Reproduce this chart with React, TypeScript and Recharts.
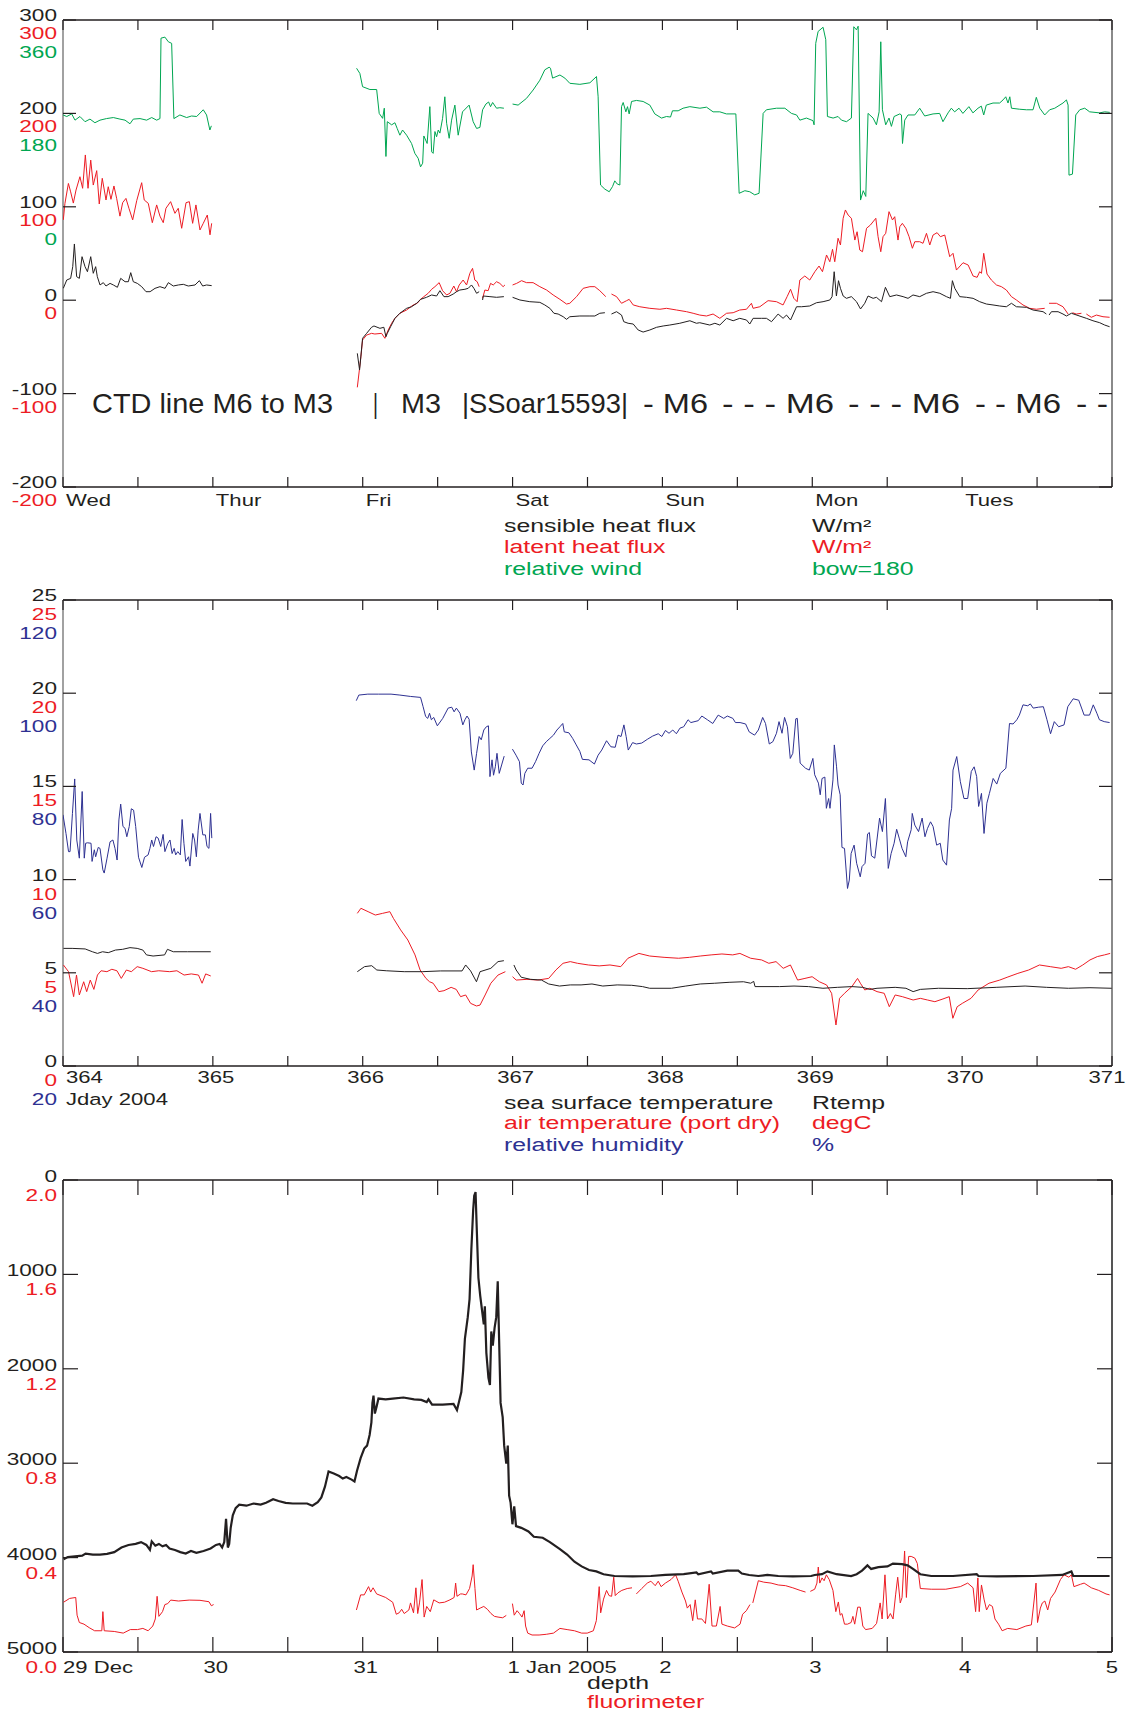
import { LineChart, Line, XAxis, YAxis, ReferenceLine } from 'recharts';

const INK = '#231f20';
const RED = '#ed1c24';
const GREEN = '#00a651';
const BLUE = '#2e3192';
const FRAME = '#8a8a8a';
const FONT = "'Liberation Sans', Arial, Helvetica, sans-serif";

type Pt = [number, number];

// shared x ticks: half-day steps over the week
const dayTicks = [0, 0.5, 1, 1.5, 2, 2.5, 3, 3.5, 4, 4.5, 5, 5.5, 6, 6.5, 7];
const weekdayLabels = ['Wed', 'Thur', 'Fri', 'Sat', 'Sun', 'Mon', 'Tues', ''];
const jdayLabels = ['364', '365', '366', '367', '368', '369', '370', '371'];
const dateLabels = ['29 Dec', '30', '31', '1 Jan 2005', '2', '3', '4', '5'];

// y ticks / multi-colour labels
const fluxTicks = [-200, -100, 0, 100, 200, 300];
const fluxLabels = ['-200', '-100', '0', '100', '200', '300'];
const windLabels = ['', '', '', '0', '180', '360'];
const tempTicks = [0, 5, 10, 15, 20, 25];
const tempLabels = ['0', '5', '10', '15', '20', '25'];
const humidLabels = ['20', '40', '60', '80', '100', '120'];
const depthTicks = [0, 1000, 2000, 3000, 4000, 5000];
const depthLabels = ['0', '1000', '2000', '3000', '4000', '5000'];
const fluorLabels = ['2.0', '1.6', '1.2', '0.8', '0.4', '0.0'];

// ---- panel 1: heat fluxes (W/m2) and relative wind (deg, bow=180) ----
const sensibleWed: Pt[] = [[0.002,12.7],[0.025,21.6],[0.051,23.4],[0.065,35.9],[0.076,60.2],[0.091,25.2],[0.109,23.4],[0.127,46.6],[0.147,35.9],[0.163,30.5],[0.185,46.6],[0.202,28.8],[0.218,35.9],[0.229,25.2],[0.247,16.3],[0.269,18.8],[0.287,15.2],[0.314,18],[0.336,16.3],[0.363,13.8],[0.385,23.4],[0.414,19.8],[0.436,19.8],[0.452,29.5],[0.469,19.8],[0.496,18],[0.525,14.5],[0.554,9.1],[0.581,9.1],[0.614,12.7],[0.647,14.5],[0.681,12.7],[0.703,18.8],[0.736,15.2],[0.77,16.3],[0.803,17],[0.836,15.2],[0.881,16.3],[0.91,20.9],[0.932,15.2],[0.958,16.3],[0.992,15.6]];
const sensibleFri1: Pt[] = [[1.964,-56.9],[1.979,-74.7],[1.999,-40.8],[2.026,-35.5],[2.059,-29],[2.075,-27.6],[2.115,-30.1],[2.141,-29],[2.155,-39.1],[2.164,-35.5],[2.186,-28.4],[2.215,-19.4],[2.248,-14],[2.293,-8.7],[2.326,-7],[2.36,-3.3],[2.386,0.9],[2.426,3.1],[2.46,5.6],[2.493,4.5],[2.515,10.2],[2.542,3.8],[2.57,3.8],[2.604,6.6],[2.626,9.1],[2.648,10.9],[2.682,11.7],[2.704,12.7],[2.726,16.3],[2.742,12.7],[2.76,7.4],[2.777,9.1]];
const sensibleFri2: Pt[] = [[2.8,0.2],[2.804,4.5],[2.849,3.8],[2.893,3.1],[2.942,3.8]];
const sensibleSat1: Pt[] = [[3.0,3.1],[3.049,0.2],[3.115,-1.6],[3.182,-2.3],[3.215,-5.1],[3.249,-8.7],[3.276,-14],[3.304,-14.8],[3.338,-17.7],[3.36,-20.5],[3.382,-17.7],[3.449,-16.9],[3.516,-16.9],[3.549,-16.9],[3.582,-14],[3.616,-13.4]];
const sensibleSat2: Pt[] = [[3.66,-14.8],[3.694,-12.3],[3.727,-15.9],[3.742,-23],[3.771,-24.7],[3.805,-25.5],[3.838,-31.9],[3.871,-34.1],[3.916,-31.9],[3.961,-29],[4.005,-27.6],[4.049,-26.6],[4.116,-24.7],[4.183,-22],[4.227,-24.7],[4.249,-24.1],[4.316,-26.6],[4.35,-24.7],[4.383,-26.6],[4.428,-19.4],[4.472,-22],[4.516,-19.4],[4.561,-21.2],[4.583,-25.5],[4.605,-19.4],[4.661,-19.4],[4.694,-19.4],[4.728,-23],[4.772,-14.8],[4.805,-19.4],[4.828,-15.9],[4.855,-21.2],[4.895,-7],[4.928,-7],[4.983,-6.2],[5.028,-2.7],[5.072,-1.6],[5.117,0.2],[5.132,3.8],[5.146,30.5],[5.161,4.5],[5.175,20.9],[5.188,12.7],[5.206,4.5],[5.228,2],[5.261,3.8],[5.295,-1.6],[5.322,-9.4],[5.35,-3.3],[5.372,4.5],[5.406,2],[5.428,3.1],[5.462,-1.6],[5.488,13.8],[5.517,3.8],[5.562,5.6],[5.606,3.8],[5.639,2],[5.672,5.6],[5.717,3.8],[5.762,7.4],[5.806,9.1],[5.851,7.4],[5.895,3.8],[5.922,2],[5.935,20.9],[5.951,12.7],[5.984,3.8],[6.029,3.1],[6.073,2],[6.117,-1.6],[6.162,-4.1],[6.206,-5.1],[6.251,-6.2],[6.295,-7],[6.329,-3.3],[6.362,-7],[6.429,-7.6],[6.473,-10.5],[6.54,-12.3],[6.562,-14.8]];
const sensibleTue: Pt[] = [[6.58,-15.9],[6.596,-12.3],[6.64,-12.3],[6.673,-14.8],[6.696,-16.9],[6.729,-14],[6.829,-19.4],[6.873,-22],[6.918,-24.1],[6.951,-26.6],[6.984,-28.4]];

const latentWed: Pt[] = [[0.002,86],[0.013,103.7],[0.036,125],[0.051,116],[0.069,104],[0.087,118],[0.113,132.2],[0.131,119.8],[0.149,155.5],[0.167,119.8],[0.185,150],[0.202,123.3],[0.225,138.7],[0.242,103],[0.262,130.5],[0.287,107.3],[0.302,121.5],[0.32,108],[0.34,122.3],[0.358,109],[0.38,90],[0.398,104.4],[0.42,109],[0.44,98.4],[0.465,86],[0.492,106.6],[0.525,125.8],[0.542,107.3],[0.569,103.7],[0.596,83],[0.625,102],[0.647,90],[0.669,83],[0.687,98.4],[0.718,105.5],[0.747,93],[0.769,98.4],[0.792,77],[0.821,104.4],[0.843,105.5],[0.865,82.3],[0.887,102],[0.914,75.2],[0.936,82.3],[0.963,91.2],[0.981,70],[0.992,82.3]];
const latentFri1: Pt[] = [[1.964,-93.3],[1.988,-60.5],[1.999,-42.6],[2.026,-37.3],[2.059,-35.5],[2.081,-36.2],[2.126,-35.5],[2.148,-40.8],[2.17,-31.9],[2.193,-24.7],[2.215,-19.4],[2.248,-14],[2.293,-10.5],[2.337,-5.1],[2.364,-3.3],[2.386,0.9],[2.408,3.8],[2.437,7.4],[2.46,11.7],[2.482,14.5],[2.51,18.8],[2.533,10.2],[2.56,5.6],[2.582,7.4],[2.608,15.2],[2.626,9.1],[2.644,16.3],[2.67,21.6],[2.693,16.3],[2.715,28.8],[2.733,34.1],[2.748,21.6],[2.764,19.8],[2.777,14.5]];
const latentFri2: Pt[] = [[2.8,2],[2.815,10.9],[2.837,10.2],[2.853,18],[2.871,16.3],[2.893,19.8],[2.915,18],[2.937,14.5],[2.949,16.3]];
const latentSat1: Pt[] = [[3.0,16.3],[3.027,18],[3.06,20.9],[3.093,18.8],[3.137,18.8],[3.182,14.5],[3.227,10.9],[3.271,5.6],[3.316,0.9],[3.36,-4.1],[3.382,-3.3],[3.427,3.8],[3.471,12.7],[3.516,14.5],[3.549,14.5],[3.582,10.2],[3.622,3.8]];
const latentSat2: Pt[] = [[3.66,6.6],[3.694,3.8],[3.727,-3.3],[3.761,-0.5],[3.778,0.9],[3.805,-5.1],[3.849,-7],[3.916,-8.7],[3.983,-9.7],[4.027,-8.7],[4.094,-10.5],[4.161,-12.3],[4.205,-14],[4.249,-15.9],[4.294,-16.9],[4.338,-14.8],[4.383,-19.4],[4.428,-14],[4.472,-13.4],[4.516,-10.5],[4.561,-9.7],[4.594,-3.3],[4.605,-8.7],[4.65,-7],[4.705,-0.5],[4.761,-1.6],[4.805,-5.1],[4.832,3.8],[4.855,11.7],[4.877,2],[4.899,-1.6],[4.917,21.6],[4.95,25.9],[4.983,21.6],[5.017,30.5],[5.045,36.6],[5.068,30.5],[5.095,48.4],[5.117,41.2],[5.135,54.5],[5.15,41.2],[5.172,66.3],[5.188,59.1],[5.206,87.7],[5.221,96.6],[5.239,91.2],[5.261,87.7],[5.284,64.4],[5.299,73.3],[5.317,53.7],[5.335,51.9],[5.362,77],[5.388,80.5],[5.424,87.7],[5.439,68],[5.457,51.9],[5.472,68],[5.49,71.6],[5.512,94.8],[5.535,85.9],[5.55,89.4],[5.572,64.4],[5.584,78.7],[5.601,82.3],[5.624,77],[5.646,68],[5.668,55.6],[5.684,62.6],[5.717,62.6],[5.739,60.9],[5.762,71.6],[5.784,59.1],[5.806,69.8],[5.833,72.3],[5.855,68],[5.884,69.8],[5.917,46.6],[5.939,50.2],[5.962,32.3],[6.006,40.1],[6.04,37.7],[6.073,25.9],[6.1,24.5],[6.117,30.5],[6.129,28.8],[6.144,50.2],[6.166,28],[6.195,21.6],[6.229,16.3],[6.262,14.5],[6.295,10.9],[6.329,3.8],[6.362,0.2],[6.406,-5.1],[6.451,-8.7],[6.495,-9.7],[6.551,-8.7]];
const latentTue1: Pt[] = [[6.58,-3.3],[6.629,-3.3],[6.673,-7],[6.707,-14.8]];
const latentTue2: Pt[] = [[6.736,-13.4],[6.762,-14.8],[6.796,-14]];
const latentTue3: Pt[] = [[6.829,-14.8],[6.862,-18.3],[6.896,-15.9],[6.94,-17.7],[6.984,-18.3]];

const windWed: Pt[] = [[0,177],[0.025,174],[0.058,179],[0.08,167],[0.113,174],[0.147,164],[0.18,169],[0.213,162],[0.247,167],[0.29,170],[0.336,172],[0.38,169],[0.414,167],[0.447,160],[0.469,169],[0.514,170],[0.558,167],[0.592,172],[0.625,167],[0.647,170],[0.654,325],[0.68,327],[0.703,318],[0.725,315],[0.74,170],[0.78,177],[0.825,172],[0.858,175],[0.892,174],[0.936,187],[0.958,177],[0.98,148],[0.99,156]];
const windFri: Pt[] = [[1.959,267],[1.981,257],[1.999,231.5],[2.048,226],[2.093,226],[2.11,180],[2.133,170.5],[2.144,190],[2.155,97],[2.164,164],[2.193,158],[2.215,162],[2.23,151],[2.248,138],[2.266,148],[2.293,138],[2.326,122],[2.348,103],[2.37,93.5],[2.386,77],[2.4,84],[2.408,136.5],[2.43,122],[2.448,193],[2.46,106],[2.47,103],[2.482,145],[2.493,135],[2.504,148],[2.515,142],[2.533,170.5],[2.548,212],[2.56,161],[2.577,132],[2.593,167],[2.615,196],[2.637,138],[2.666,183],[2.71,196],[2.737,164],[2.76,151],[2.782,153],[2.8,187],[2.822,198],[2.84,202],[2.853,193],[2.867,201],[2.893,190],[2.915,191],[2.942,190]];
const windSat: Pt[] = [[3.0,198],[3.037,196],[3.093,209],[3.137,225],[3.182,244],[3.215,264],[3.244,269],[3.253,267],[3.267,248],[3.316,254],[3.349,248],[3.382,238],[3.449,236],[3.516,239],[3.56,251],[3.571,212],[3.587,42],[3.616,34],[3.645,29],[3.667,39],[3.682,50],[3.698,44],[3.716,42],[3.727,193],[3.738,201],[3.756,183],[3.767,193],[3.778,179],[3.794,203],[3.827,205],[3.871,203],[3.916,196],[3.949,179],[3.994,171],[4.027,174],[4.054,173],[4.067,185],[4.105,185],[4.138,190],[4.183,193],[4.25,190],[4.294,192],[4.338,183],[4.383,183],[4.427,179],[4.49,179],[4.512,26],[4.55,31],[4.583,29],[4.616,23],[4.645,26],[4.672,180],[4.694,187],[4.761,190],[4.817,190],[4.861,180],[4.895,177],[4.917,167],[4.961,171],[5.005,166],[5.012,158],[5.023,315],[5.039,338],[5.072,346],[5.09,322],[5.101,174],[5.139,171],[5.172,174],[5.195,167],[5.228,164],[5.261,171],[5.277,347],[5.295,341],[5.306,348],[5.322,13],[5.34,31],[5.357,20],[5.372,180],[5.406,171],[5.428,158],[5.446,183],[5.457,318],[5.468,187],[5.49,158],[5.512,171],[5.528,155],[5.546,174],[5.584,179],[5.595,177],[5.602,122],[5.617,167],[5.639,177],[5.684,177],[5.717,190],[5.75,175],[5.806,179],[5.85,180],[5.872,164],[5.906,181],[5.928,190],[5.95,183],[5.979,190],[6.005,180],[6.045,193],[6.072,181],[6.106,190],[6.128,194],[6.144,177],[6.161,196],[6.206,200],[6.25,200],[6.273,206],[6.291,212],[6.306,200],[6.318,212],[6.329,190],[6.384,188],[6.429,187],[6.473,187],[6.495,211],[6.518,190],[6.551,177],[6.584,187],[6.618,190],[6.673,200],[6.696,206],[6.707,196],[6.713,61],[6.736,63],[6.758,177],[6.785,187],[6.818,190],[6.851,183],[6.918,181],[6.951,183],[6.985,182]];

// ---- panel 2: temperatures (degC) and relative humidity (%) ----
const sstWed: Pt[] = [[0.003,6.31],[0.061,6.31],[0.148,6.28],[0.196,6.13],[0.23,6.04],[0.264,6.13],[0.302,6.08],[0.35,6.22],[0.398,6.26],[0.447,6.35],[0.495,6.31],[0.533,6.22],[0.557,5.96],[0.601,5.9],[0.678,5.96],[0.697,6.26],[0.736,6.13],[0.832,6.13],[0.986,6.13]];
const sstA: Pt[] = [[1.964,5.06],[2.012,5.33],[2.06,5.38],[2.094,5.15],[2.157,5.11],[2.277,5.06],[2.398,5.06],[2.518,5.1],[2.663,5.1],[2.687,5.42],[2.72,5.1],[2.759,4.52],[2.783,5.06],[2.855,5.24],[2.903,5.6],[2.942,5.65]];
const sstB: Pt[] = [[3.009,5.42],[3.024,5.15],[3.058,4.76],[3.12,4.65],[3.193,4.61],[3.241,4.4],[3.313,4.29],[3.385,4.35],[3.457,4.35],[3.53,4.4],[3.602,4.29],[3.698,4.35],[3.795,4.33],[3.867,4.26],[3.915,4.17],[4.06,4.17],[4.156,4.29],[4.252,4.4],[4.349,4.44],[4.445,4.49],[4.541,4.52],[4.589,4.44],[4.609,4.54],[4.618,4.26],[4.782,4.26],[4.878,4.29],[4.975,4.26],[5.071,4.17],[5.167,4.22],[5.264,4.26],[5.336,4.22],[5.384,4.11],[5.432,4.17],[5.553,4.22],[5.625,4.17],[5.673,3.99],[5.721,4.11],[5.842,4.17],[6.034,4.15],[6.227,4.22],[6.42,4.29],[6.564,4.22],[6.709,4.17],[6.853,4.2],[6.998,4.17]];

const airWed: Pt[] = [[0.003,5.42],[0.037,5.06],[0.071,3.72],[0.09,4.88],[0.109,3.81],[0.138,4.52],[0.158,3.99],[0.182,4.61],[0.206,4.11],[0.23,4.88],[0.254,5.11],[0.293,5.06],[0.326,5.19],[0.36,5.11],[0.389,4.7],[0.423,5.15],[0.456,5.06],[0.495,5.33],[0.533,5.24],[0.591,5.06],[0.639,5.11],[0.712,5.06],[0.76,5.11],[0.808,4.88],[0.856,4.94],[0.904,4.88],[0.928,4.44],[0.952,4.94],[0.986,4.83]];
const airA: Pt[] = [[1.964,8.19],[1.988,8.46],[2.036,8.28],[2.084,8.1],[2.133,8.19],[2.181,8.28],[2.205,7.92],[2.253,7.3],[2.301,6.76],[2.349,5.96],[2.383,5.15],[2.422,4.7],[2.446,4.52],[2.47,4.44],[2.508,3.99],[2.542,4.04],[2.59,4.22],[2.624,4.11],[2.653,3.72],[2.687,3.81],[2.72,3.36],[2.759,3.22],[2.783,3.27],[2.817,3.81],[2.855,4.44],[2.903,4.88],[2.952,5.06]];
const airB: Pt[] = [[3.0,4.79],[3.024,4.61],[3.096,4.65],[3.168,4.61],[3.241,4.7],[3.289,5.15],[3.337,5.51],[3.385,5.6],[3.433,5.51],[3.506,5.42],[3.578,5.37],[3.65,5.42],[3.722,5.33],[3.77,5.78],[3.843,6.04],[3.915,5.9],[4.011,5.83],[4.108,5.78],[4.18,5.83],[4.252,5.9],[4.325,5.96],[4.397,6.01],[4.469,5.96],[4.517,6.04],[4.589,5.78],[4.662,5.69],[4.71,5.51],[4.758,5.6],[4.806,5.24],[4.854,5.42],[4.902,4.61],[4.951,4.7],[4.999,4.79],[5.047,4.52],[5.095,4.35],[5.129,3.9],[5.158,2.2],[5.182,3.63],[5.215,3.9],[5.264,4.26],[5.302,4.7],[5.321,4.44],[5.35,4.08],[5.384,4.17],[5.432,3.99],[5.48,3.9],[5.514,3.18],[5.553,3.81],[5.601,3.72],[5.673,3.54],[5.721,3.63],[5.769,3.54],[5.818,3.45],[5.866,3.58],[5.914,3.72],[5.938,2.56],[5.967,3.18],[6.001,3.36],[6.059,3.63],[6.107,4.08],[6.179,4.44],[6.251,4.61],[6.3,4.76],[6.372,4.97],[6.444,5.15],[6.516,5.42],[6.588,5.33],[6.661,5.24],[6.709,5.33],[6.757,5.19],[6.805,5.42],[6.853,5.69],[6.902,5.87],[6.95,5.96],[6.988,6.04]];

const humidWed: Pt[] = [[0,73.9],[0.02,69.9],[0.037,66],[0.047,66],[0.063,74.2],[0.078,81.6],[0.092,68.5],[0.109,64.6],[0.128,78.9],[0.142,64.6],[0.151,67.8],[0.163,67.9],[0.187,67.8],[0.194,63.9],[0.209,66.4],[0.218,64.9],[0.235,66.9],[0.247,66.7],[0.266,62.1],[0.275,61.4],[0.294,64.6],[0.314,68.1],[0.333,68.5],[0.347,66.7],[0.361,64.2],[0.373,72.8],[0.385,76.2],[0.4,71.4],[0.414,71],[0.426,69.2],[0.442,71.4],[0.456,75.2],[0.471,74.9],[0.485,71.4],[0.504,64.8],[0.526,62.6],[0.544,64.8],[0.568,65.3],[0.58,66.7],[0.592,68.5],[0.604,67.1],[0.621,69.2],[0.635,68.9],[0.652,67.1],[0.668,69.7],[0.68,66],[0.7,67.8],[0.714,68.5],[0.728,65.6],[0.742,66.7],[0.752,65.3],[0.766,66],[0.783,65.3],[0.795,72.9],[0.807,67.8],[0.819,63.9],[0.838,64.9],[0.847,62.9],[0.866,69.9],[0.878,68.5],[0.89,64.9],[0.902,70.6],[0.914,74.2],[0.933,69.6],[0.95,69.6],[0.961,67.1],[0.974,66.7],[0.985,74.2],[0.993,68.9]];
const humidA: Pt[] = [[1.957,98.4],[1.974,99.6],[2.034,99.8],[2.105,99.8],[2.189,99.8],[2.248,99.6],[2.32,99.3],[2.386,99.1],[2.403,97.1],[2.42,95],[2.434,94.6],[2.446,95.7],[2.458,94.3],[2.474,94.8],[2.498,93],[2.534,94.6],[2.57,96.8],[2.594,97],[2.61,96],[2.625,96.8],[2.649,95.7],[2.668,93.2],[2.682,94.3],[2.696,95.1],[2.71,94.4],[2.725,87.4],[2.744,83.5],[2.76,87.1],[2.777,90.7],[2.791,90],[2.808,92.1],[2.825,92.8],[2.839,93],[2.849,82.1],[2.863,85.7],[2.873,82.4],[2.885,84.2],[2.896,87.1],[2.911,82.8],[2.927,84.6],[2.944,86.5]];
const humidB: Pt[] = [[2.999,88],[3.023,86.7],[3.046,85.3],[3.058,80.7],[3.07,80.3],[3.082,82.8],[3.101,83.9],[3.13,83.9],[3.153,85.3],[3.177,87.1],[3.201,88.7],[3.225,89.6],[3.249,90.3],[3.273,91],[3.296,92.1],[3.316,92.8],[3.335,93.5],[3.345,91.7],[3.376,91.5],[3.401,90.3],[3.425,88.9],[3.449,87.5],[3.466,85.8],[3.51,85.7],[3.546,84.8],[3.571,86.7],[3.595,87.8],[3.627,89.8],[3.656,88.5],[3.685,88.4],[3.704,91],[3.724,90.7],[3.743,93.2],[3.758,90.7],[3.772,87.8],[3.801,89.4],[3.826,89.1],[3.862,89.3],[3.899,90.1],[3.935,90.8],[3.972,91.3],[3.996,90.7],[4.02,92],[4.044,91.4],[4.069,92.1],[4.093,91.3],[4.117,92.5],[4.142,92.8],[4.171,94.3],[4.19,93.7],[4.239,94.1],[4.263,95.1],[4.3,94.3],[4.336,93.5],[4.372,95.3],[4.409,94.6],[4.433,95.1],[4.47,94.6],[4.487,93.7],[4.518,93.7],[4.555,93.4],[4.579,91.7],[4.615,91],[4.64,92.1],[4.669,94.8],[4.688,93.5],[4.713,89.1],[4.737,89.6],[4.761,91.4],[4.778,93.9],[4.798,91.4],[4.815,94.8],[4.834,92.8],[4.853,86],[4.87,87.1],[4.89,94.5],[4.9,94.6],[4.919,85],[4.955,83.9],[4.98,83.5],[5.004,86],[5.016,82.5],[5.041,80.7],[5.053,78.2],[5.065,81.7],[5.084,82],[5.094,75.3],[5.109,77.4],[5.118,75.3],[5.138,81.4],[5.147,88.9],[5.162,84.2],[5.172,80.3],[5.186,78.2],[5.198,66.9],[5.215,66.7],[5.235,58.1],[5.247,59.9],[5.259,65.6],[5.279,67.4],[5.296,63.5],[5.32,60.6],[5.332,62.8],[5.352,63.5],[5.369,69.8],[5.381,70.1],[5.395,65.1],[5.417,64.6],[5.449,73.2],[5.468,70.3],[5.488,77.4],[5.507,62.4],[5.526,65.6],[5.546,67.8],[5.563,70.8],[5.58,68.9],[5.599,66.7],[5.624,64.9],[5.636,68.1],[5.66,70.7],[5.667,74.2],[5.684,71.7],[5.709,70.3],[5.733,73.2],[5.752,69.2],[5.769,71],[5.789,72.4],[5.806,71.4],[5.83,67.4],[5.854,67.8],[5.871,64.2],[5.896,63.1],[5.915,72.8],[5.93,75.3],[5.939,83.5],[5.964,86.4],[5.988,81],[6.012,77.4],[6.037,77.4],[6.061,83.2],[6.08,84.2],[6.097,82.1],[6.11,75.7],[6.129,78.5],[6.146,69.9],[6.165,76.4],[6.182,78.5],[6.207,81.7],[6.231,80.5],[6.255,82.8],[6.292,83.9],[6.316,93.5],[6.34,93.4],[6.365,94.3],[6.382,95.3],[6.406,97.5],[6.438,97.3],[6.455,97.7],[6.474,96.8],[6.51,97],[6.542,97.1],[6.566,94.3],[6.59,91.3],[6.615,93.9],[6.644,92.8],[6.68,93.2],[6.705,97.1],[6.741,98.8],[6.778,98.5],[6.814,95.3],[6.85,95.3],[6.875,97.5],[6.899,95.7],[6.916,94.3],[6.948,93.9],[6.984,93.7]];

// ---- panel 3: depth (m, reversed) and fluorimeter ----
const depth: Pt[] = [[0.004,4018],[0.032,3995],[0.08,3987],[0.128,3980],[0.151,3957],[0.199,3968],[0.247,3968],[0.294,3961],[0.342,3942],[0.39,3893],[0.437,3866],[0.485,3855],[0.521,3836],[0.556,3866],[0.58,3919],[0.592,3828],[0.616,3874],[0.64,3855],[0.664,3881],[0.688,3866],[0.711,3904],[0.747,3919],[0.783,3942],[0.819,3957],[0.854,3930],[0.89,3949],[0.938,3930],[0.985,3904],[1.021,3866],[1.045,3855],[1.062,3893],[1.076,3836],[1.088,3590],[1.1,3893],[1.109,3855],[1.119,3684],[1.133,3552],[1.152,3476],[1.176,3439],[1.224,3450],[1.271,3427],[1.319,3439],[1.355,3420],[1.402,3382],[1.438,3401],[1.486,3420],[1.533,3427],[1.581,3427],[1.629,3427],[1.664,3450],[1.7,3412],[1.724,3363],[1.748,3249],[1.772,3087],[1.807,3110],[1.843,3136],[1.867,3163],[1.891,3147],[1.926,3174],[1.945,3193],[1.962,3079],[1.986,2947],[2.01,2845],[2.029,2814],[2.046,2701],[2.058,2569],[2.065,2361],[2.072,2285],[2.081,2474],[2.093,2398],[2.105,2315],[2.153,2323],[2.2,2315],[2.272,2304],[2.343,2323],[2.391,2330],[2.427,2353],[2.439,2323],[2.463,2379],[2.534,2379],[2.606,2372],[2.629,2436],[2.641,2360],[2.658,2247],[2.67,2020],[2.682,1679],[2.701,1453],[2.713,1263],[2.725,734],[2.737,318],[2.744,166],[2.753,128],[2.76,469],[2.772,1036],[2.784,1226],[2.796,1377],[2.808,1528],[2.815,1339],[2.825,1831],[2.839,2096],[2.849,2171],[2.858,1604],[2.868,1755],[2.88,1566],[2.891,1453],[2.901,1074],[2.91,1679],[2.92,2361],[2.934,2512],[2.944,2814],[2.958,3004],[2.968,2814],[2.977,3344],[2.987,3420],[2.999,3647],[3.011,3457],[3.023,3666],[3.058,3685],[3.106,3723],[3.142,3779],[3.201,3790],[3.249,3836],[3.316,3911],[3.364,3968],[3.413,4044],[3.461,4093],[3.51,4131],[3.559,4146],[3.607,4176],[3.68,4195],[3.801,4199],[3.923,4195],[4.02,4184],[4.142,4176],[4.227,4157],[4.239,4176],[4.324,4146],[4.336,4169],[4.433,4138],[4.506,4138],[4.53,4169],[4.579,4184],[4.64,4195],[4.7,4184],[4.773,4195],[4.87,4199],[4.992,4195],[5.016,4184],[5.065,4176],[5.101,4146],[5.162,4176],[5.259,4195],[5.296,4176],[5.332,4138],[5.368,4082],[5.393,4120],[5.441,4101],[5.502,4093],[5.538,4063],[5.599,4070],[5.636,4082],[5.672,4120],[5.721,4176],[5.794,4195],[5.939,4195],[6.097,4176],[6.109,4195],[6.231,4199],[6.474,4195],[6.668,4184],[6.729,4146],[6.741,4195],[6.862,4195],[6.984,4195]];

const fluor1: Pt[] = [[0.004,0.211],[0.044,0.227],[0.085,0.231],[0.094,0.156],[0.109,0.125],[0.14,0.118],[0.175,0.103],[0.211,0.09],[0.259,0.09],[0.266,0.171],[0.275,0.09],[0.342,0.087],[0.402,0.08],[0.449,0.095],[0.497,0.095],[0.533,0.1],[0.568,0.09],[0.599,0.11],[0.616,0.14],[0.628,0.236],[0.64,0.151],[0.664,0.171],[0.68,0.201],[0.699,0.205],[0.719,0.22],[0.771,0.216],[0.842,0.22],[0.914,0.219],[0.974,0.213],[0.99,0.196],[1.005,0.201]];
const fluor2: Pt[] = [[1.958,0.178],[1.986,0.242],[2.01,0.242],[2.039,0.277],[2.053,0.254],[2.069,0.272],[2.093,0.246],[2.153,0.231],[2.2,0.211],[2.224,0.16],[2.243,0.166],[2.26,0.181],[2.277,0.163],[2.308,0.178],[2.319,0.208],[2.339,0.166],[2.355,0.272],[2.367,0.163],[2.379,0.208],[2.396,0.307],[2.41,0.148],[2.427,0.193],[2.451,0.171],[2.474,0.221],[2.51,0.208],[2.546,0.211],[2.582,0.221],[2.61,0.231],[2.62,0.292],[2.629,0.236],[2.653,0.246],[2.665,0.246],[2.689,0.242],[2.713,0.269],[2.73,0.322],[2.737,0.37],[2.749,0.269],[2.76,0.178],[2.784,0.186],[2.808,0.193],[2.832,0.181],[2.856,0.163],[2.879,0.151],[2.903,0.148],[2.934,0.145],[2.958,0.155]];
const fluor3: Pt[] = [[2.999,0.205],[3.011,0.156],[3.03,0.175],[3.046,0.163],[3.063,0.148],[3.077,0.175],[3.087,0.11],[3.101,0.08],[3.13,0.072],[3.177,0.072],[3.225,0.075],[3.273,0.08],[3.316,0.1],[3.364,0.095],[3.413,0.09],[3.461,0.08],[3.498,0.08],[3.539,0.09],[3.559,0.133],[3.578,0.277],[3.588,0.166],[3.607,0.224],[3.627,0.261],[3.644,0.239],[3.661,0.236],[3.675,0.317],[3.685,0.239],[3.704,0.251],[3.729,0.261],[3.765,0.269],[3.797,0.272]];
const fluor4: Pt[] = [[3.826,0.246],[3.862,0.269],[3.899,0.292],[3.923,0.3],[3.952,0.281],[3.972,0.3],[3.991,0.277],[4.02,0.292],[4.057,0.307],[4.088,0.327],[4.105,0.3],[4.13,0.254],[4.154,0.216],[4.166,0.186],[4.185,0.201],[4.202,0.133],[4.219,0.221],[4.234,0.14],[4.263,0.14],[4.287,0.121],[4.312,0.287],[4.331,0.11],[4.36,0.11],[4.385,0.193],[4.397,0.118],[4.433,0.11],[4.482,0.102],[4.518,0.118],[4.535,0.16],[4.56,0.175],[4.584,0.201]];
const fluor5: Pt[] = [[4.603,0.208],[4.64,0.302],[4.676,0.296],[4.725,0.292],[4.773,0.284],[4.822,0.281],[4.87,0.272],[4.919,0.261],[4.955,0.254]];
const fluor6: Pt[] = [[4.987,0.257],[5.016,0.266],[5.031,0.292],[5.04,0.36],[5.05,0.292],[5.065,0.314],[5.079,0.302],[5.094,0.327],[5.113,0.307],[5.138,0.261],[5.157,0.171],[5.174,0.212],[5.186,0.156],[5.198,0.163],[5.215,0.118],[5.235,0.118],[5.259,0.125],[5.271,0.151],[5.283,0.118],[5.303,0.19],[5.32,0.19],[5.337,0.11],[5.356,0.095],[5.4,0.1],[5.429,0.121],[5.453,0.208],[5.466,0.14],[5.485,0.327],[5.502,0.14],[5.521,0.163],[5.539,0.14],[5.556,0.242],[5.57,0.317],[5.587,0.208],[5.599,0.231],[5.616,0.428],[5.628,0.231],[5.643,0.405],[5.66,0.405],[5.684,0.398],[5.701,0.375],[5.721,0.269],[5.794,0.266],[5.891,0.266],[5.988,0.277],[6.037,0.292],[6.073,0.272],[6.09,0.171],[6.105,0.314],[6.114,0.171],[6.129,0.284],[6.146,0.224],[6.163,0.178],[6.182,0.201],[6.202,0.193],[6.219,0.14],[6.243,0.118],[6.267,0.09],[6.304,0.1],[6.365,0.095],[6.425,0.11],[6.462,0.115],[6.493,0.292],[6.503,0.125],[6.522,0.186],[6.535,0.208],[6.552,0.216],[6.571,0.178],[6.59,0.227],[6.62,0.254],[6.656,0.307],[6.68,0.327],[6.712,0.317],[6.729,0.327],[6.746,0.277],[6.79,0.287],[6.814,0.292],[6.862,0.272],[6.911,0.261],[6.96,0.246],[6.984,0.242]];

type Row = { t: number; v: number | null };
// joins recorded segments, leaving a null row between them so the line breaks
const toRows = (...segs: Pt[][]): Row[] => {
  const rows: Row[] = [];
  segs.forEach((seg, i) => {
    if (i > 0) {
      const prev = segs[i - 1];
      rows.push({ t: (prev[prev.length - 1][0] + seg[0][0]) / 2, v: null });
    }
    seg.forEach(([t, v]) => rows.push({ t, v }));
  });
  return rows;
};

const WideText = ({ x, y, children, fill = INK, size = 17, anchor = 'start', stretch = 1.33 }: any) => (
  <text
    transform={`translate(${x} ${y}) scale(${stretch} 1)`}
    fill={fill}
    fontSize={size}
    fontFamily={FONT}
    textAnchor={anchor}
    dominantBaseline="central"
  >
    {children}
  </text>
);

// plot box, shared by all three panels
const PLOT_LEFT = 63;
const PLOT_W = 1049;

// y tick: inward marks on both sides of the frame plus stacked coloured labels
const makeYTick = (ticks: number[], cols: { labels: string[]; color: string }[], offsets: number[], len: number) =>
  (props: any) => {
    const { y, payload } = props;
    const x = PLOT_LEFT;
    const i = ticks.indexOf(payload.value);
    return (
      <g>
        <line x1={x} y1={y} x2={x + len} y2={y} stroke={INK} strokeWidth={1.2} />
        <line x1={x + PLOT_W - len} y1={y} x2={x + PLOT_W} y2={y} stroke={INK} strokeWidth={1.2} />
        {cols.map((c, k) =>
          c.labels[i] ? (
            <WideText key={k} x={x - 6} y={y + offsets[k]} anchor="end" fill={c.color}>
              {c.labels[i]}
            </WideText>
          ) : null
        )}
      </g>
    );
  };

const makeXTick = (labels: string[], plotH: number, len: number, labelDy: number, place: (i: number) => [string, number]) =>
  (props: any) => {
    const { x, y, payload } = props;
    const v = payload.value;
    const isDay = Number.isInteger(v);
    const [anchor, dx] = place(v);
    return (
      <g>
        <line x1={x} y1={y} x2={x} y2={y - len} stroke={INK} strokeWidth={1.2} />
        <line x1={x} y1={y - plotH} x2={x} y2={y - plotH + len} stroke={INK} strokeWidth={1.2} />
        {isDay && labels[v] ? (
          <WideText x={x + dx} y={y + labelDy} anchor={anchor} stretch={1.3}>
            {labels[v]}
          </WideText>
        ) : null}
      </g>
    );
  };

const lineProps = { dataKey: 'v', dot: false, strokeWidth: 1, isAnimationActive: false, connectNulls: false, xAxisId: 'd' };

// axes get 1px of room: recharts skips an axis whose width/height is 0
const xAxisBase = {
  xAxisId: 'd',
  dataKey: 't',
  type: 'number' as const,
  domain: [0, 7],
  ticks: dayTicks,
  interval: 0,
  height: 1,
  tickSize: 0,
  tickMargin: 0,
  tickLine: false,
  allowDataOverflow: true,
  axisLine: { stroke: INK, strokeWidth: 1.3 },
};

const yAxisBase = {
  type: 'number' as const,
  interval: 0,
  width: 1,
  tickSize: 0,
  tickMargin: 0,
  tickLine: false,
  axisLine: false,
  allowDataOverflow: true,
};

const FluxPanel = () => (
  <LineChart width={1131} height={590} margin={{ top: 20, right: 19, bottom: 102, left: 62 }}>
    <XAxis {...xAxisBase} tick={makeXTick(weekdayLabels, 467, 10, 13, () => ['start', 3])} />
    <YAxis
      {...yAxisBase}
      yAxisId="l"
      domain={[-200, 300]}
      ticks={fluxTicks}
      tick={makeYTick(fluxTicks, [
        { labels: fluxLabels, color: INK },
        { labels: fluxLabels, color: RED },
        { labels: windLabels, color: GREEN },
      ], [-5, 13, 32], 13)}
    />
    <YAxis yAxisId="g" hide domain={[-540, 360]} allowDataOverflow />
    <ReferenceLine xAxisId="d" yAxisId="l" y={300} stroke={INK} strokeWidth={1.3} />
    <ReferenceLine xAxisId="d" yAxisId="l" x={0} stroke={FRAME} strokeWidth={1.6} />
    <ReferenceLine xAxisId="d" yAxisId="l" x={7} stroke={FRAME} strokeWidth={2} />
    <Line {...lineProps} yAxisId="g" data={toRows(windWed, windFri, windSat)} stroke={GREEN} />
    <Line {...lineProps} yAxisId="l" data={toRows(latentWed, latentFri1, latentFri2, latentSat1, latentSat2, latentTue1, latentTue2, latentTue3)} stroke={RED} />
    <Line {...lineProps} yAxisId="l" data={toRows(sensibleWed, sensibleFri1, sensibleFri2, sensibleSat1, sensibleSat2, sensibleTue)} stroke={INK} />
  </LineChart>
);

const TempPanel = () => (
  <LineChart width={1131} height={600} margin={{ top: 40, right: 19, bottom: 93, left: 62 }}>
    <XAxis
      {...xAxisBase}
      tick={makeXTick(jdayLabels, 466, 10, 11, (i) =>
        i === 0 ? ['start', 3] : i === 7 ? ['middle', -5] : ['middle', 3]
      )}
    />
    <YAxis
      {...yAxisBase}
      yAxisId="l"
      domain={[0, 25]}
      ticks={tempTicks}
      tick={makeYTick(tempTicks, [
        { labels: tempLabels, color: INK },
        { labels: tempLabels, color: RED },
        { labels: humidLabels, color: BLUE },
      ], [-5, 14, 33], 13)}
    />
    <YAxis yAxisId="h" hide domain={[20, 120]} allowDataOverflow />
    <ReferenceLine xAxisId="d" yAxisId="l" y={25} stroke={INK} strokeWidth={1.3} />
    <ReferenceLine xAxisId="d" yAxisId="l" x={0} stroke={FRAME} strokeWidth={1.6} />
    <ReferenceLine xAxisId="d" yAxisId="l" x={7} stroke={FRAME} strokeWidth={2} />
    <Line {...lineProps} yAxisId="h" data={toRows(humidWed, humidA, humidB)} stroke={BLUE} />
    <Line {...lineProps} yAxisId="l" data={toRows(airWed, airA, airB)} stroke={RED} />
    <Line {...lineProps} yAxisId="l" data={toRows(sstWed, sstA, sstB)} stroke={INK} />
  </LineChart>
);

const DepthPanel = () => (
  <LineChart width={1131} height={553} margin={{ top: 20, right: 19, bottom: 60, left: 62 }}>
    <XAxis
      {...xAxisBase}
      tick={makeXTick(dateLabels, 472, 15, 15, (i) =>
        i === 0 ? ['start', 0] : i === 3 ? ['start', -5] : i === 7 ? ['middle', 0] : ['middle', 3]
      )}
    />
    <YAxis
      {...yAxisBase}
      yAxisId="l"
      reversed
      domain={[0, 5000]}
      ticks={depthTicks}
      tick={makeYTick(depthTicks, [
        { labels: depthLabels, color: INK },
        { labels: fluorLabels, color: RED },
      ], [-4, 15], 15)}
    />
    <YAxis yAxisId="f" hide domain={[0, 2]} allowDataOverflow />
    <ReferenceLine xAxisId="d" yAxisId="l" y={0} stroke={INK} strokeWidth={1.3} />
    <ReferenceLine xAxisId="d" yAxisId="l" x={0} stroke="#555" strokeWidth={1.6} />
    <ReferenceLine xAxisId="d" yAxisId="l" x={7} stroke="#555" strokeWidth={2} />
    <Line {...lineProps} yAxisId="f" data={toRows(fluor1, fluor2, fluor3, fluor4, fluor5, fluor6)} stroke={RED} />
    <Line {...lineProps} yAxisId="l" data={toRows(depth)} stroke={INK} strokeWidth={2.2} />
  </LineChart>
);

const ctdPieces = [
  { text: 'CTD line M6 to M3', x: 92, w: 241 },
  { text: '|', x: 373, w: 5 },
  { text: 'M3', x: 401, w: 40 },
  { text: '|SSoar15593|', x: 462, w: 166 },
  { text: '- M6', x: 643, w: 65 },
  { text: '- - - M6', x: 722, w: 112 },
  { text: '- - - M6', x: 848, w: 112 },
  { text: '- - M6', x: 975, w: 86 },
  { text: '- -', x: 1076, w: 32 },
];

const Notes = () => (
  <svg width={1131} height={1713} style={{ position: 'absolute', left: 0, top: 0, pointerEvents: 'none' }}>
    {ctdPieces.map((p, i) => (
      <text key={i} x={p.x} y={413} fontSize={28} fontFamily={FONT} fill={INK} textLength={p.w} lengthAdjust="spacingAndGlyphs">
        {p.text}
      </text>
    ))}
    <WideText x={504} y={526} size={18} stretch={1.38}>sensible heat flux</WideText>
    <WideText x={504} y={547} size={18} stretch={1.38} fill={RED}>latent heat flux</WideText>
    <WideText x={504} y={569} size={18} stretch={1.38} fill={GREEN}>relative wind</WideText>
    <WideText x={812} y={526} size={18} stretch={1.38}>W/m²</WideText>
    <WideText x={812} y={547} size={18} stretch={1.38} fill={RED}>W/m²</WideText>
    <WideText x={812} y={569} size={18} stretch={1.38} fill={GREEN}>bow=180</WideText>

    <WideText x={66} y={1099} size={17} stretch={1.3}>Jday 2004</WideText>
    <WideText x={504} y={1103} size={18} stretch={1.38}>sea surface temperature</WideText>
    <WideText x={504} y={1123} size={18} stretch={1.38} fill={RED}>air temperature (port dry)</WideText>
    <WideText x={504} y={1145} size={18} stretch={1.38} fill={BLUE}>relative humidity</WideText>
    <WideText x={812} y={1103} size={18} stretch={1.38}>Rtemp</WideText>
    <WideText x={812} y={1123} size={18} stretch={1.38} fill={RED}>degC</WideText>
    <WideText x={812} y={1145} size={18} stretch={1.38} fill={BLUE}>%</WideText>

    <WideText x={587} y={1683} size={18} stretch={1.38}>depth</WideText>
    <WideText x={587} y={1702} size={18} stretch={1.38} fill={RED}>fluorimeter</WideText>
  </svg>
);

export default function App() {
  return (
    <div style={{ position: 'absolute', left: 0, top: 0, width: 1131, height: 1713, background: '#fff' }}>
      <div style={{ position: 'absolute', left: 0, top: 0 }}>
        <FluxPanel />
      </div>
      <div style={{ position: 'absolute', left: 0, top: 560 }}>
        <TempPanel />
      </div>
      <div style={{ position: 'absolute', left: 0, top: 1160 }}>
        <DepthPanel />
      </div>
      <Notes />
    </div>
  );
}
